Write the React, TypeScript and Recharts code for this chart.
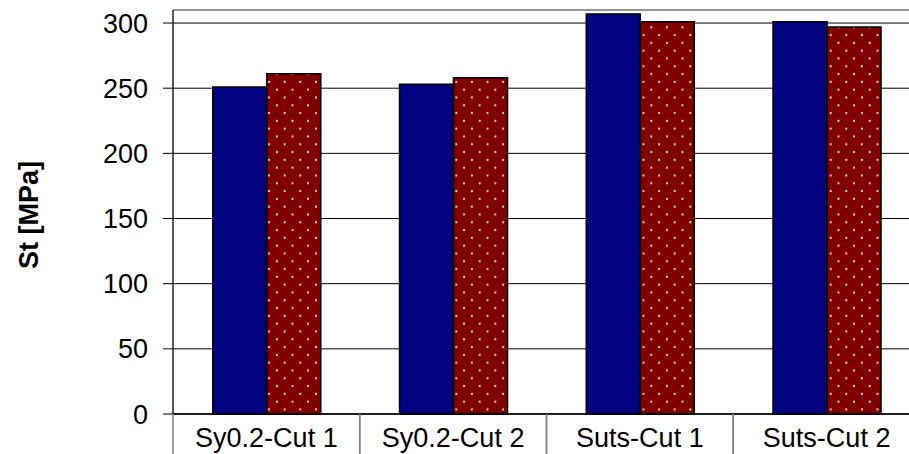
import { Bar, BarChart, CartesianGrid, ReferenceLine, XAxis, YAxis } from 'recharts';

const categories = ['Sy0.2-Cut 1', 'Sy0.2-Cut 2', 'Suts-Cut 1', 'Suts-Cut 2'];
const series1 = [251, 253, 307, 301];
const series2 = [261, 258, 301, 297];
const yTicks = [0, 50, 100, 150, 200, 250, 300];

const data = categories.map((name, i) => ({ name, s1: series1[i], s2: series2[i] }));

const W = 940;
const H = 454;
const LEFT = 173;
const RIGHT = 20;
const TOP = 10;
const BOTTOM = 40;
const bandW = (W - LEFT - RIGHT) / categories.length;

const font = '"Liberation Sans", Arial, sans-serif';

const CategoryTick = (props: any) => {
  const { x, y, payload } = props;
  return (
    <g>
      <line x1={x - bandW / 2} y1={y} x2={x - bandW / 2} y2={y + 42} stroke="#808080" strokeWidth={1.5} />
      <line x1={x + bandW / 2} y1={y} x2={x + bandW / 2} y2={y + 42} stroke="#808080" strokeWidth={1.5} />
      <text x={x} y={y + 33} textAnchor="middle" fontSize={27} fontFamily={font} fill="#000">
        {payload.value}
      </text>
    </g>
  );
};

export default function App() {
  return (
    <div style={{ position: 'absolute', left: 0, top: 0, width: 909, height: 454, overflow: 'hidden', background: '#fff' }}>
      <BarChart
        width={W}
        height={H}
        data={data}
        margin={{ top: TOP, right: RIGHT, left: 0, bottom: 0 }}
        barGap={0}
        barCategoryGap="21.3%"
      >
        <defs>
          <pattern id="dots" width={15.6} height={15.6} patternUnits="userSpaceOnUse">
            <rect width={15.6} height={15.6} fill="#800000" />
            <circle cx={3.9} cy={3.9} r={1.1} fill="#f2d2d2" />
            <circle cx={11.7} cy={11.7} r={1.1} fill="#f2d2d2" />
          </pattern>
        </defs>
        <CartesianGrid vertical={false} stroke="#000" strokeWidth={1} />
        <ReferenceLine y={310} stroke="#a0a0a0" strokeWidth={1.5} />
        <XAxis
          dataKey="name"
          height={BOTTOM}
          tickLine={false}
          tickSize={0}
          tickMargin={0}
          interval={0}
          axisLine={{ stroke: '#000', strokeWidth: 1.5 }}
          tick={<CategoryTick />}
        />
        <YAxis
          width={LEFT}
          domain={[0, 310]}
          ticks={yTicks}
          interval={0}
          tickSize={10}
          tickMargin={15}
          axisLine={{ stroke: '#222', strokeWidth: 1.5 }}
          tickLine={{ stroke: '#000' }}
          tick={{ fontSize: 27, fontFamily: font, fill: '#000' }}
          label={{
            content: () => (
              <text
                x={29}
                y={215}
                transform="rotate(-90 29 215)"
                textAnchor="middle"
                dominantBaseline="central"
                fontSize={27}
                fontWeight="bold"
                fontFamily={font}
                fill="#000"
              >
                St [MPa]
              </text>
            ),
          }}
        />
        <Bar dataKey="s1" fill="#000080" stroke="#000" strokeWidth={1.5} isAnimationActive={false} />
        <Bar dataKey="s2" fill="url(#dots)" stroke="#000" strokeWidth={1.5} isAnimationActive={false} />
      </BarChart>
    </div>
  );
}
